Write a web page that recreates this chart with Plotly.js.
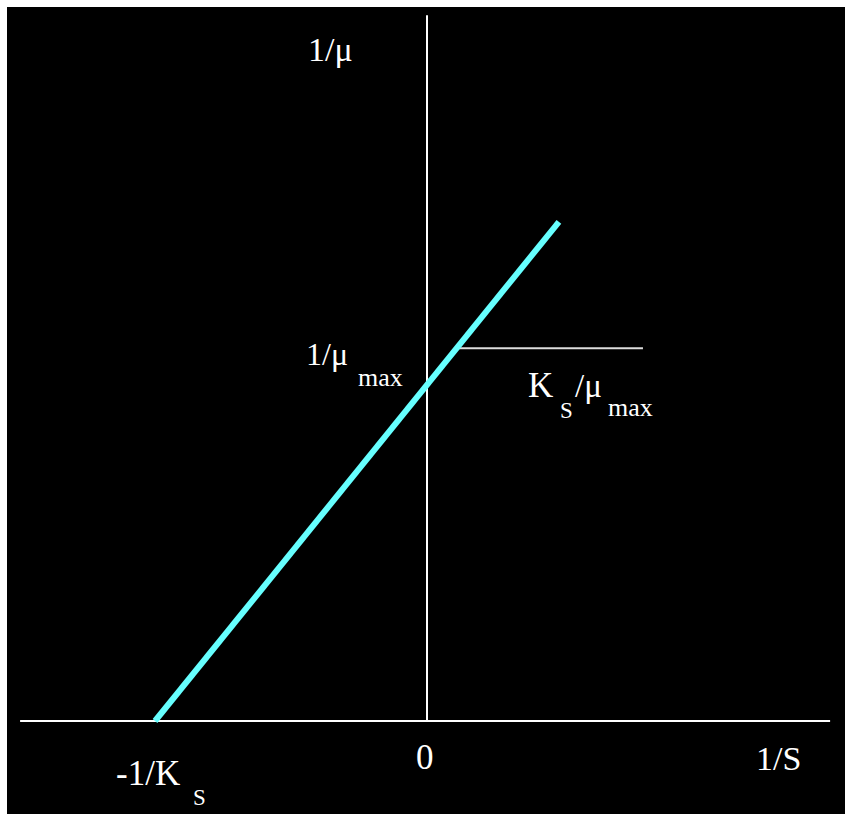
<!DOCTYPE html>
<html>
<head>
<meta charset="utf-8">
<script src="https://cdn.plot.ly/plotly-3.0.1.min.js"></script>
<style>html,body{margin:0;padding:0;background:#fff;overflow:hidden;}#chart{position:absolute;left:7px;top:7px;width:838px;height:807px;background:#000;}</style>
</head>
<body>
<div id="chart"></div>
<script>
// Lineweaver-Burk style plot: 1/mu = (Ks/mu_max)(1/S) + 1/mu_max
var lineX = [-1, 0.485];          // 1/S : from -1/Ks to end of drawn line
var lineY = [0, 1.49];            // 1/mu
var slopeX = [0.113, 0.794];      // horizontal reference segment (Ks/mu_max)
var slopeY = [1.113, 1.113];
var xAxisX = [-1.496, 1.482];
var xAxisY = [0, 0];
var yAxisX = [0, 0];
var yAxisY = [0, 2.107];

var OFF = 7, W = 838, H = 807;
// page pixel -> paper fraction
function px(x) { return (x - OFF) / W; }
function py(y) { return 1 - (y - OFF) / H; }
var FONT = 'Liberation Serif, Times New Roman, serif';
function lab(text, left, baseline, size) {
  return {
    text: text, xref: 'paper', yref: 'paper',
    x: px(left), y: py(baseline - 0.3375 * size),
    xanchor: 'left', yanchor: 'middle', showarrow: false,
    font: {family: FONT, size: size, color: '#ffffff'}
  };
}

var traces = [
  {x: xAxisX, y: xAxisY, mode: 'lines', line: {color: '#ffffff', width: 2}, hoverinfo: 'skip'},
  {x: yAxisX, y: yAxisY, mode: 'lines', line: {color: '#ffffff', width: 2}, hoverinfo: 'skip'},
  {x: slopeX, y: slopeY, mode: 'lines', line: {color: '#dddddd', width: 2}, hoverinfo: 'skip'},
  {x: lineX, y: lineY, mode: 'lines', line: {color: '#66ffff', width: 6}, hoverinfo: 'skip'}
];

var layout = {
  width: W, height: H,
  margin: {l: 0, r: 0, t: 0, b: 0, pad: 0},
  paper_bgcolor: '#000000',
  plot_bgcolor: '#000000',
  showlegend: false,
  xaxis: {range: [(OFF - 427) / 272, (OFF + W - 427) / 272], visible: false, fixedrange: true},
  yaxis: {range: [(721 - OFF - H) / 335, (721 - OFF) / 335], visible: false, fixedrange: true},
  annotations: [
    lab('1/μ', 306, 61, 34),
    lab('1/μ', 304, 365, 32),
    lab('max', 356, 386, 26),
    lab('K', 526, 397, 35),
    lab('S', 558, 418, 23),
    lab('/μ', 573, 397, 33),
    lab('max', 606, 416, 26),
    lab('0', 414, 769, 35),
    lab('1/S', 754, 770, 34),
    lab('-1/K', 114, 785, 35),
    lab('S', 191, 805, 23)
  ]
};

Plotly.newPlot('chart', traces, layout, {staticPlot: true, displayModeBar: false});
</script>
</body>
</html>
